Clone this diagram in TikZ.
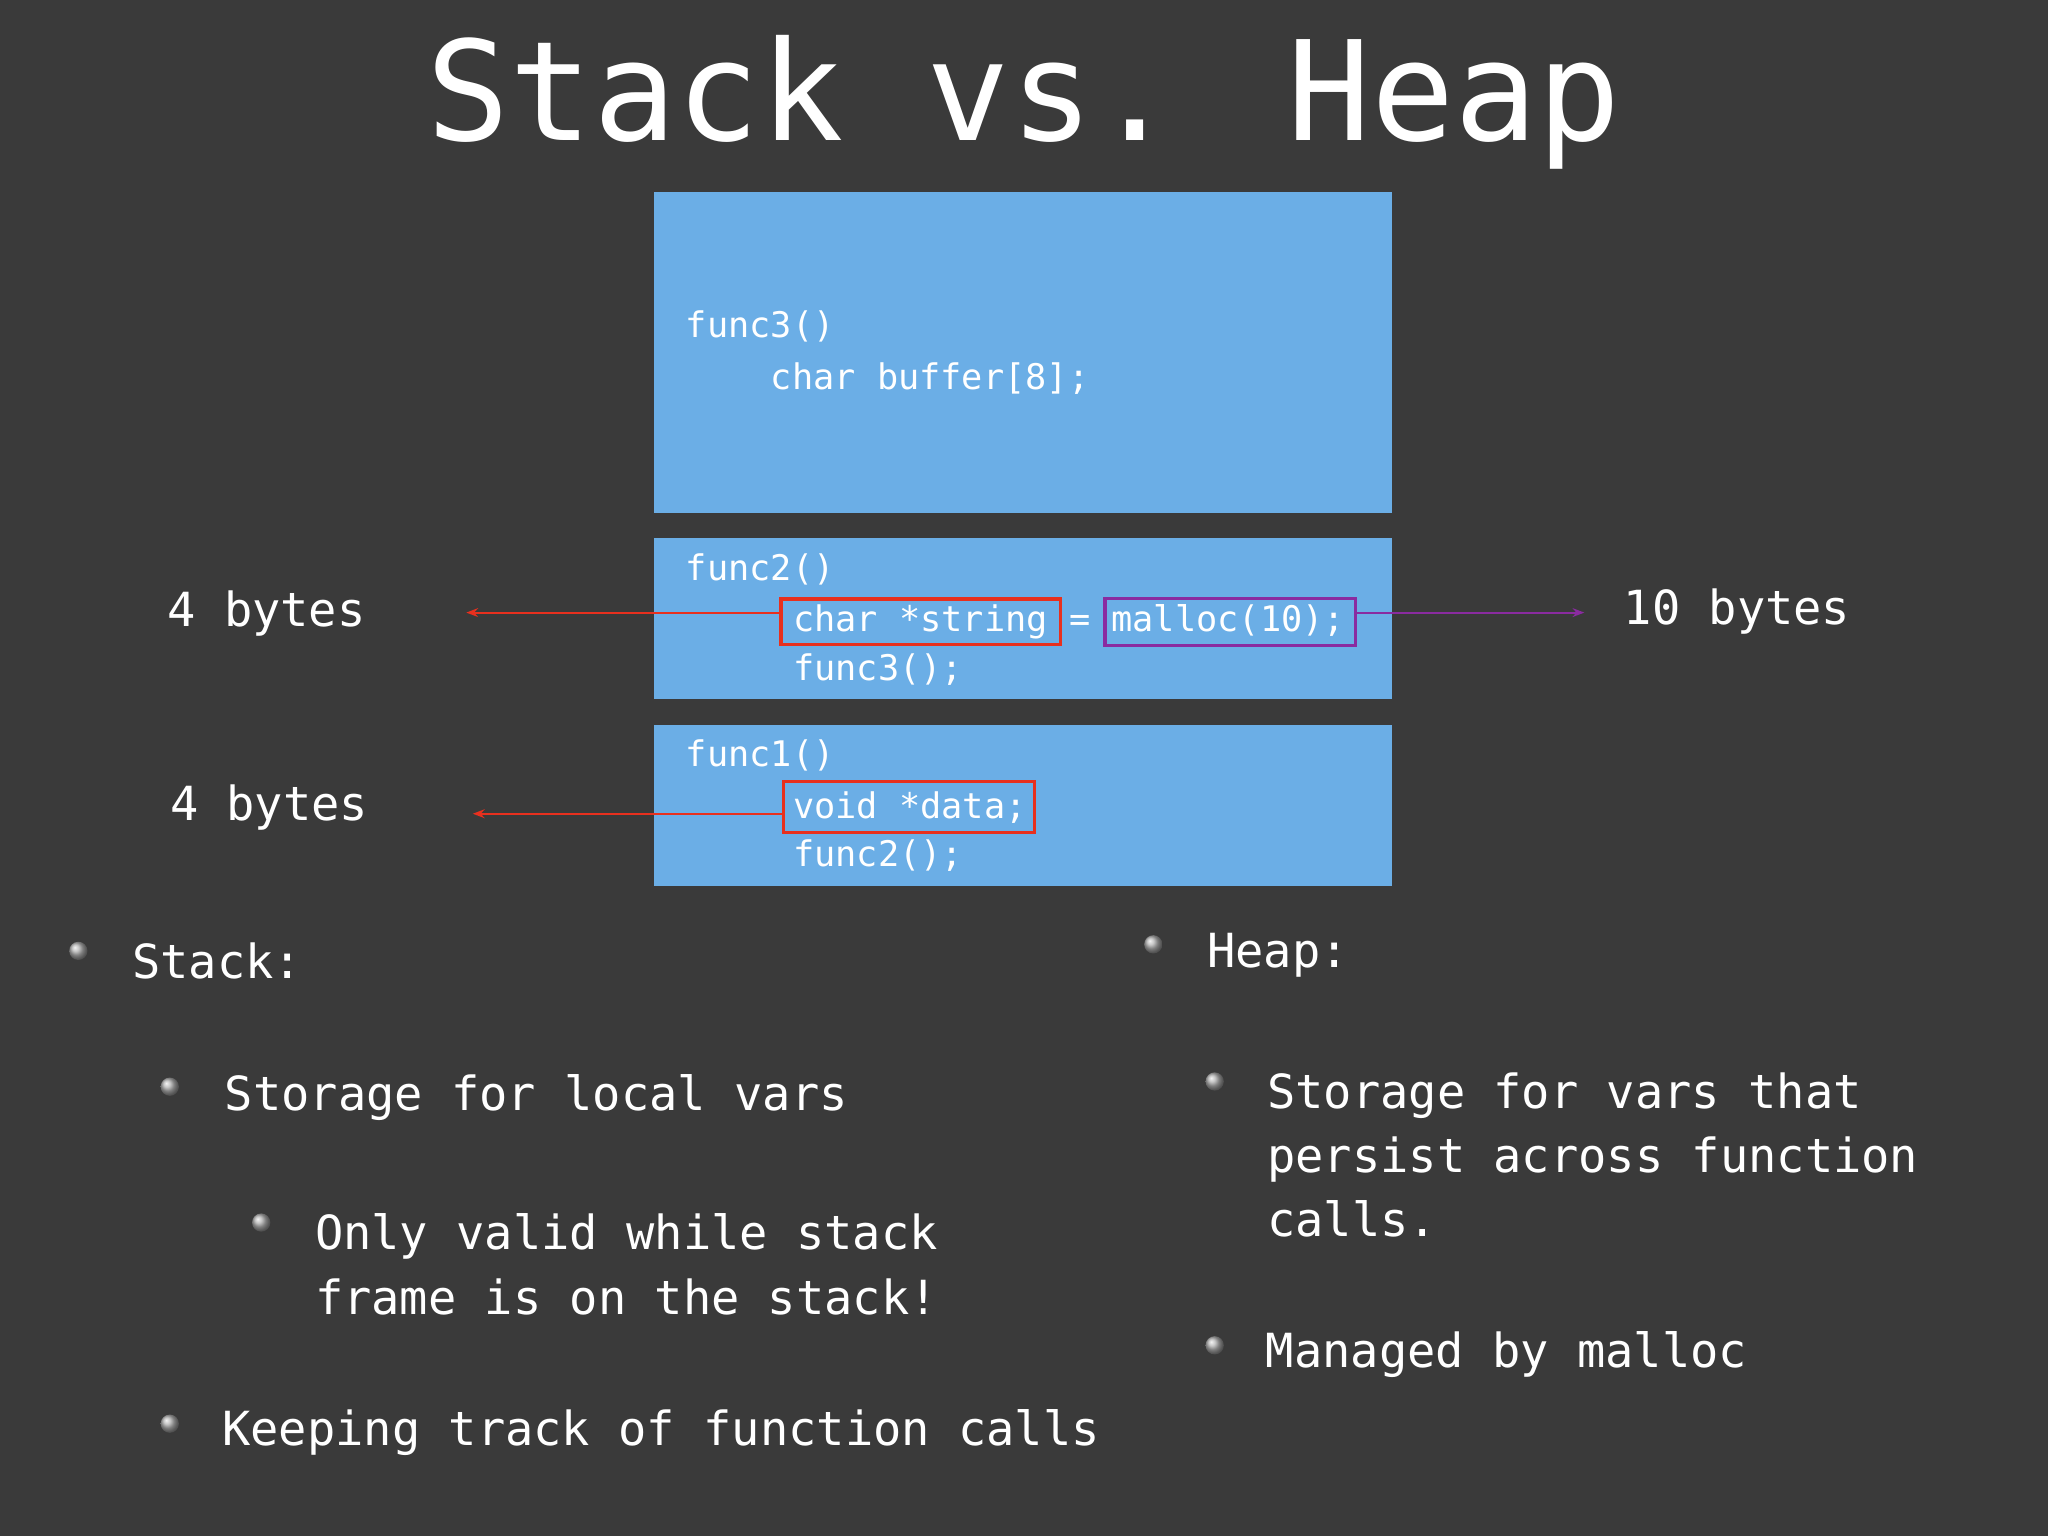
\documentclass[tikz,border=0pt]{standalone}
\usepackage{fontspec}
\setmainfont{DejaVu Sans Mono}
\usetikzlibrary{arrows.meta}
\definecolor{bg}{HTML}{3A3A3A}
\definecolor{frame}{HTML}{6BAEE6}
\definecolor{redb}{HTML}{E8301E}
\definecolor{purb}{HTML}{8A2BA0}
\tikzset{
  x=1pt,y=-1pt,
  code/.style={anchor=west,inner sep=0pt,text=white,font=\fontsize{27}{27}\selectfont},
  big/.style={anchor=west,inner sep=0pt,text=white,font=\fontsize{36}{36}\selectfont},
  stackbox/.style={fill=frame,draw=none},
  hl/.style={draw=redb,line width=2.5pt},
  hlp/.style={draw=purb,line width=2.5pt},
  pin/.style={circle,inner sep=0pt,minimum size=14pt,ball color=gray!60,draw=none},
}
\begin{document}
\begin{tikzpicture}
\fill[bg] (0,0) rectangle (1568,1176);
\useasboundingbox (0,0) rectangle (1568,1176);
\node[anchor=center,inner sep=0pt,text=white,font=\fontsize{106}{106}\selectfont] (title) at (784,78) {Stack vs. Heap};
\fill[stackbox] (501,147) rectangle (1066,393);
\fill[stackbox] (501,412) rectangle (1066,535);
\fill[stackbox] (501,555) rectangle (1066,678);
\node[code] (f3) at (525,250) {func3()};
\node[code] (f3a) at (590,290) {char buffer[8];};
\node[code] (f2) at (525,436) {func2()};
\node[code] (f2a) at (607,476) {char *string = malloc(10);};
\node[code] (f2b) at (607,513) {func3();};
\node[code] (f1) at (525,578) {func1()};
\node[code] (f1a) at (607,618) {void *data;};
\node[code] (f1b) at (607,655) {func2();};
\node[hl,minimum width=214pt,minimum height=35pt,inner sep=0pt] (rb1) at (705,476) {};
\node[hlp,minimum width=192pt,minimum height=36pt,inner sep=0pt] (pb) at (942,476) {};
\node[hl,minimum width=192pt,minimum height=39pt,inner sep=0pt] (rb2) at (696,618) {};
\node[big] (b1) at (128,470) {4 bytes};
\node[big] (b2) at (130,618) {4 bytes};
\node[big] (b3) at (1243,468) {10 bytes};
\coordinate (a1) at (357,469);
\coordinate (a2) at (362,623);
\coordinate (a3) at (1213,469);
\draw[redb,line width=1.5pt,-{Stealth[length=9pt]}] (rb1.west |- a1) -- (a1);
\draw[redb,line width=1.5pt,-{Stealth[length=9pt]}] (rb2.west |- a2) -- (a2);
\draw[purb,line width=1.5pt,-{Stealth[length=9pt]}] (pb.east |- a3) -- (a3);
\node[pin] (p1) at (60,728) {};
\node[pin] (p2) at (130,832) {};
\node[pin] (p3) at (200,936) {};
\node[pin] (p4) at (130,1090) {};
\node[pin] (p5) at (883,723) {};
\node[pin] (p6) at (930,828) {};
\node[pin] (p7) at (930,1030) {};
\node[big] (t1) at (101,736) {Stack:};
\node[big] (t2) at (172,840) {Storage for local vars};
\node[big,align=left,font=\fontsize{36}{50}\selectfont] (t3) at (241,968) {Only valid while stack\\frame is on the stack!};
\node[big] (t4) at (170,1097) {Keeping track of function calls};
\node[big] (t5) at (924,731) {Heap:};
\node[big,align=left,font=\fontsize{36}{49}\selectfont] (t6) at (970,884) {Storage for vars that\\persist across function\\calls.};
\node[big] (t7) at (969,1037) {Managed by malloc};
\end{tikzpicture}
\end{document}
